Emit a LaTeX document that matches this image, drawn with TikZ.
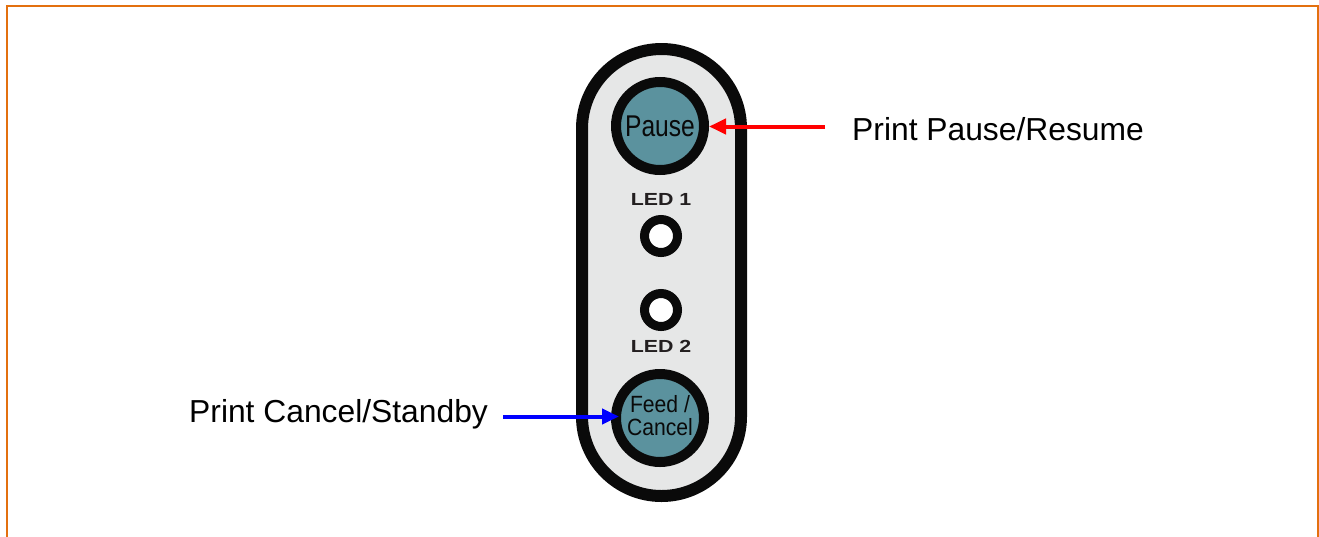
\documentclass[tikz,border=0pt]{standalone}
\usepackage{fontspec}
\setmainfont{Liberation Sans}
\usetikzlibrary{arrows.meta}
\definecolor{frameor}{HTML}{E3700F}
\definecolor{teal1}{HTML}{5B929E}
\definecolor{pillgrey}{HTML}{E6E7E7}
\definecolor{ink}{HTML}{0A0A0A}
\definecolor{ledtext}{HTML}{231F20}
\tikzset{
  pill/.style={draw=ink, line width=12pt, fill=pillgrey, rectangle, rounded corners=79.5pt,
    minimum width=159pt, minimum height=447pt, inner sep=0pt},
  button/.style={draw=ink, line width=10pt, fill=teal1, circle, minimum size=88pt, inner sep=0pt, text=ink},
  led/.style={draw=ink, line width=9pt, fill=white, circle, minimum size=33pt, inner sep=0pt},
  ledlabel/.style={text=ledtext, inner sep=0pt, font=\bfseries\fontsize{17.5}{17.5}\selectfont},
  callout/.style={inner sep=0pt, anchor=base west, font=\fontsize{31.8}{31.8}\selectfont},
  pointer/.style={line width=4pt, -{Triangle[length=17pt,width=15pt]}},
}
\begin{document}
\begin{tikzpicture}[x=1pt,y=-1pt]
\useasboundingbox (0,0) rectangle (1319,536);
\draw[frameor, line width=2pt] (6.5,537) -- (6.5,6) -- (1318,6) -- (1318,537);
\node[pill] (pill) at (661.5,272.5) {};
\node[button, font=\fontsize{30}{30}\selectfont] (pause) at (660,126) {\scalebox{0.82}[1]{Pause}};
\node[button] (feed) at (660,418) {\fontsize{23.5}{19}\selectfont\scalebox{0.9}[1]{\begin{tabular}{@{}c@{}}Feed /\\Cancel\end{tabular}}};
\node[led] (led1) at (661,236) {};
\node[led] (led2) at (661,310) {};
\node[ledlabel] (l1) at (661,199) {\scalebox{1.22}[1]{LED 1}};
\node[ledlabel] (l2) at (661,346.5) {\scalebox{1.22}[1]{LED 2}};
\node[callout] (tpause) at (852,140) {Print Pause/Resume};
\node[callout] (tfeed) at (189,422) {Print Cancel/Standby};
\coordinate (rstart) at (825,126.5);
\coordinate (bstart) at (503,416.5);
\draw[pointer, red] (rstart) -- (rstart -| pause.east);
\draw[pointer, blue, shorten >=-8pt] (bstart) -- (bstart -| feed.west);
\end{tikzpicture}
\end{document}
